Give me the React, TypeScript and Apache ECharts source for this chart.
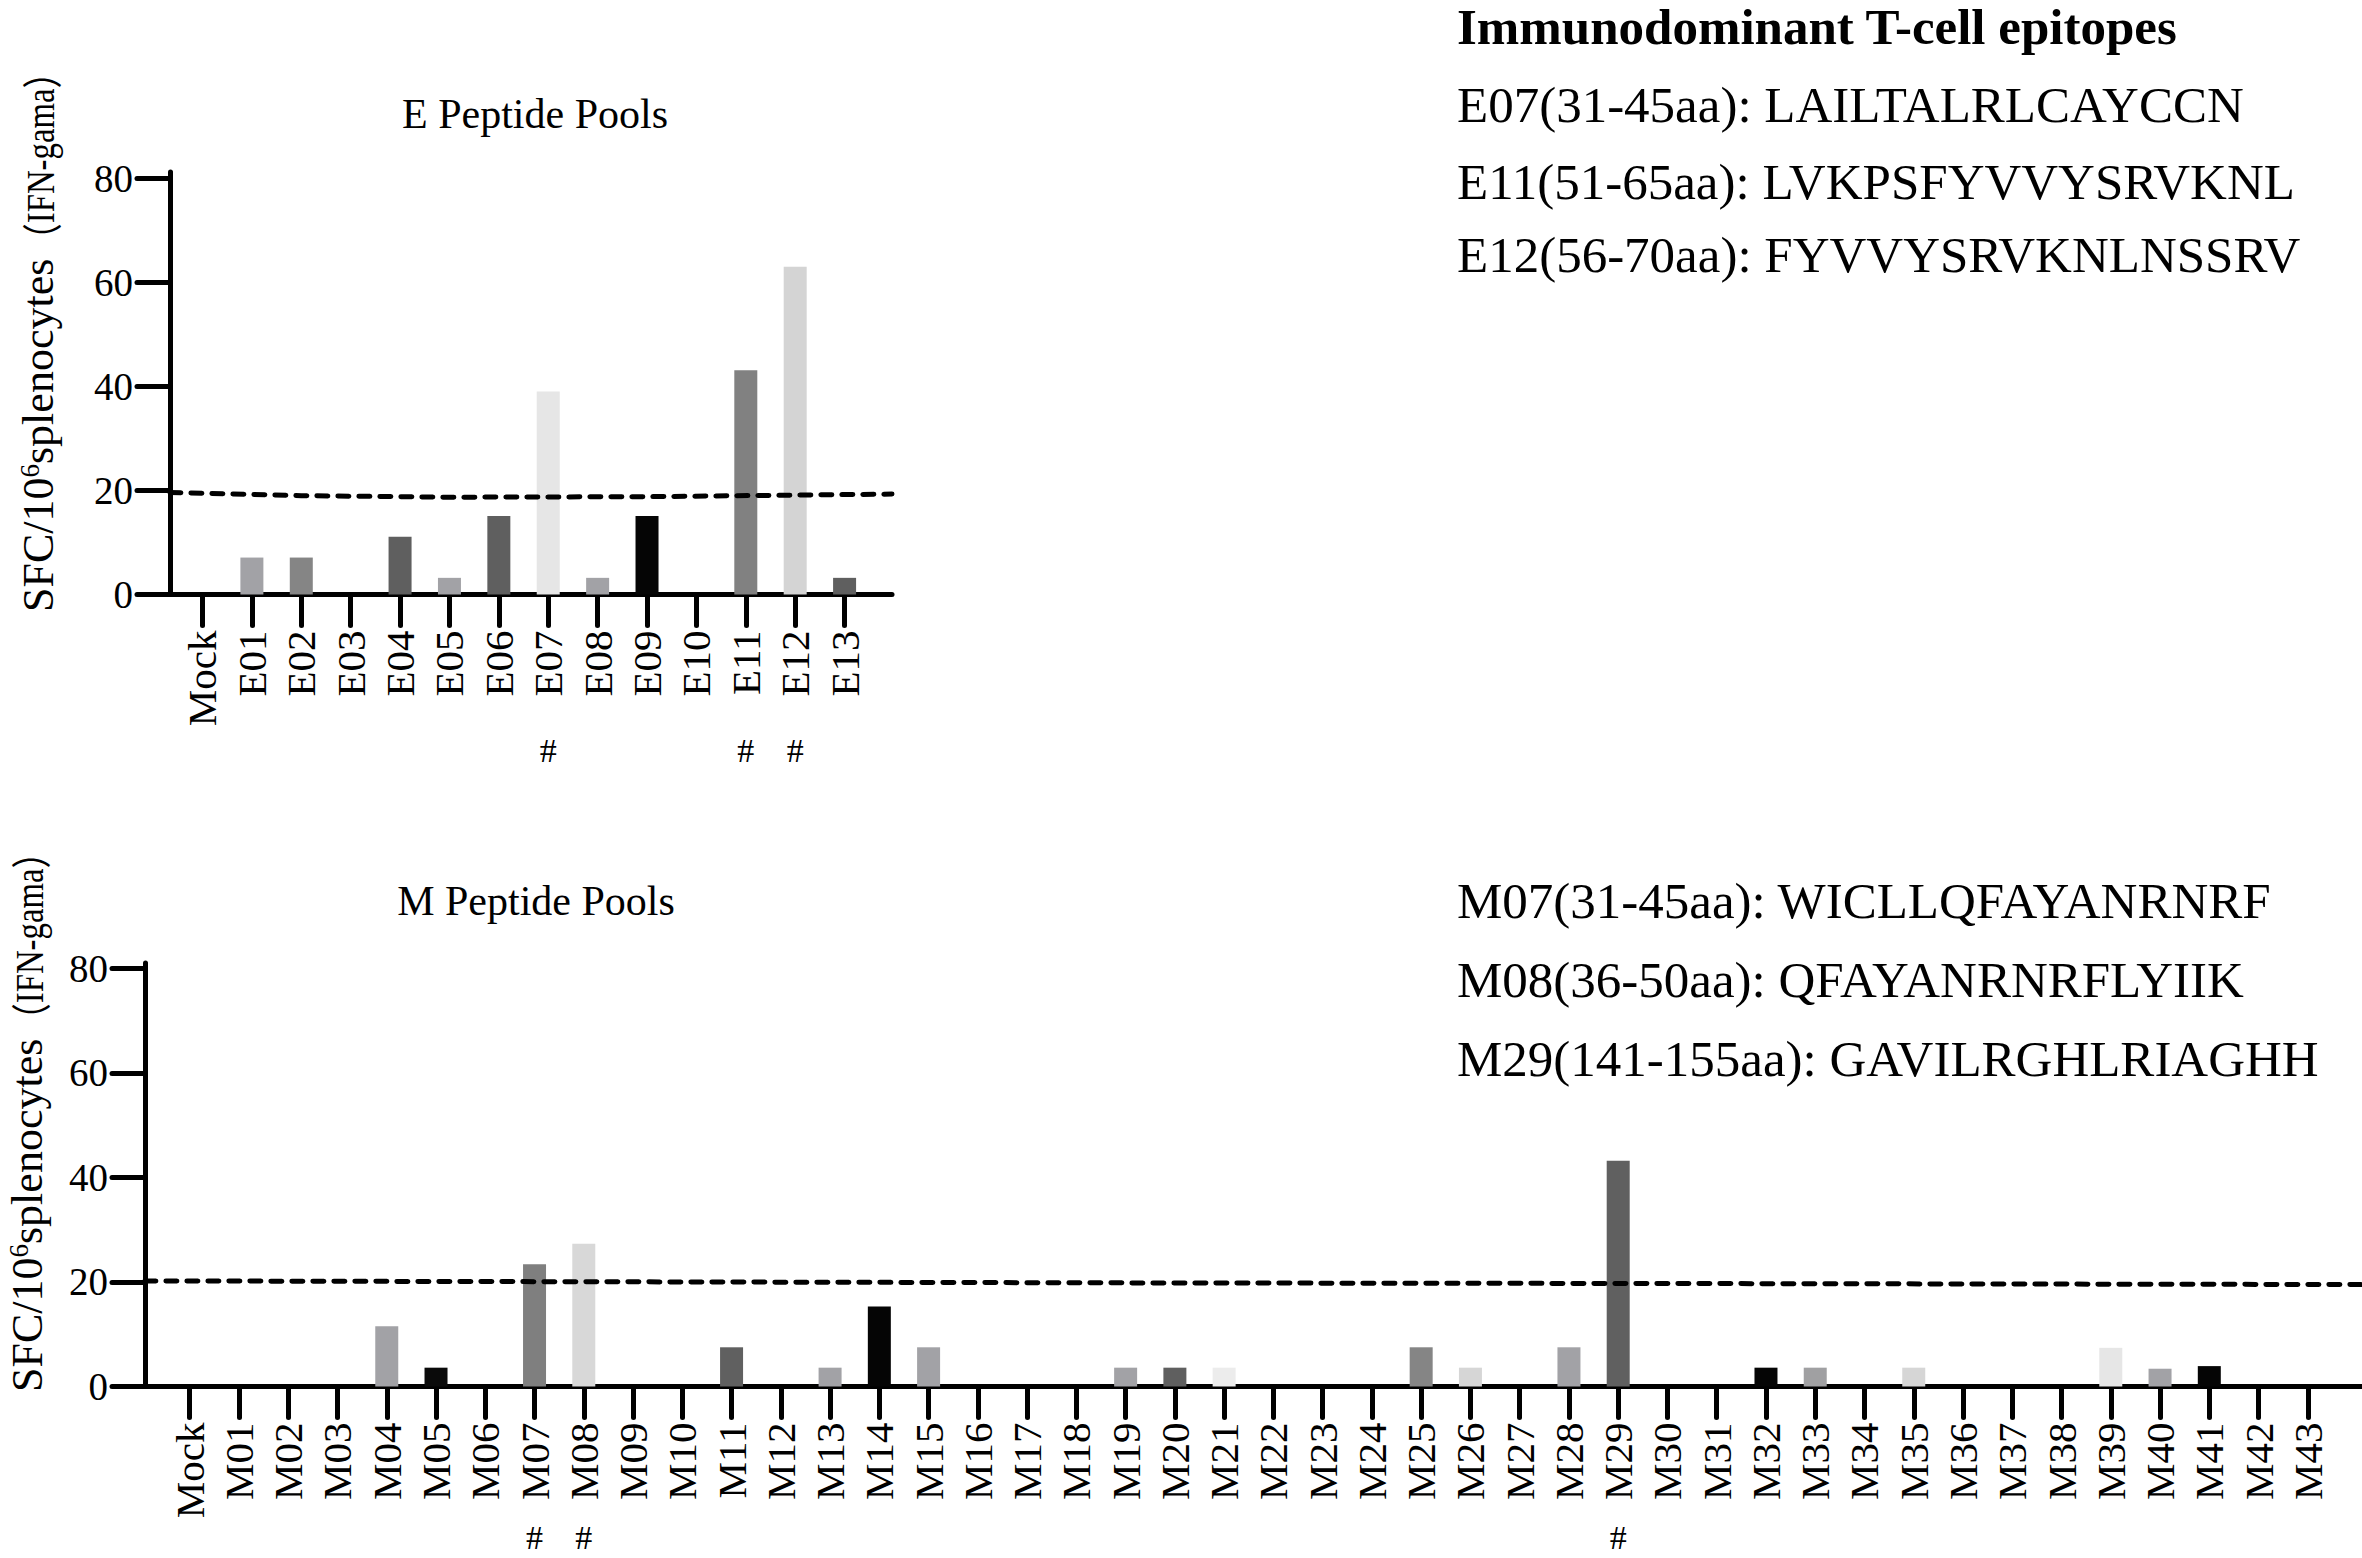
import React, { useEffect, useRef } from "react";
import * as echarts from "echarts";

// ---------- data ----------
const eCategories = ["Mock", "E01", "E02", "E03", "E04", "E05", "E06", "E07", "E08", "E09", "E10", "E11", "E12", "E13"];
const eValues = [0, 7.1, 7.1, 0, 11.1, 3.2, 15.1, 39.0, 3.2, 15.1, 0, 43.1, 63.0, 3.2];
const eMarked = ["E07", "E11", "E12"];
// threshold line: [category position, value]
const eThreshold = [[-0.66, 19.6], [2, 19.0], [5, 18.7], [9, 18.8], [12, 19.1], [13.96, 19.3]];

const mCategories = [
  "Mock", "M01", "M02", "M03", "M04", "M05", "M06", "M07", "M08", "M09", "M10",
  "M11", "M12", "M13", "M14", "M15", "M16", "M17", "M18", "M19", "M20",
  "M21", "M22", "M23", "M24", "M25", "M26", "M27", "M28", "M29", "M30",
  "M31", "M32", "M33", "M34", "M35", "M36", "M37", "M38", "M39", "M40",
  "M41", "M42", "M43",
];
const mValues = [
  0, 0, 0, 0, 11.5, 3.6, 0, 23.4, 27.3, 0, 0,
  7.5, 0, 3.6, 15.3, 7.5, 0, 0, 0, 3.6, 3.6,
  3.6, 0, 0, 0, 7.5, 3.6, 0, 7.5, 43.2, 0,
  0, 3.6, 3.6, 0, 3.6, 0, 0, 0, 7.4, 3.4,
  3.9, 0, 0,
];
const mMarked = ["M07", "M08", "M29"];
const mThreshold = [[-0.91, 20.2], [10, 20.0], [20, 19.8], [30, 19.7], [44.1, 19.5]];

const yTicks = [0, 20, 40, 60, 80];

const eEpitopes = [
  "E07(31-45aa): LAILTALRLCAYCCN",
  "E11(51-65aa): LVKPSFYVVYSRVKNL",
  "E12(56-70aa): FYVVYSRVKNLNSSRV",
];
const mEpitopes = [
  "M07(31-45aa): WICLLQFAYANRNRF",
  "M08(36-50aa): QFAYANRNRFLYIIK",
  "M29(141-155aa): GAVILRGHLRIAGHH",
];

// ---------- styles ----------
const eColors = ["#000000", "#a2a2a6", "#858585", "#a2a2a6", "#5f5f5f", "#a2a2a6", "#5f5f5f", "#e6e6e6", "#a2a2a6", "#050505", "#858585", "#818181", "#d4d4d4", "#5f5f5f"];
const mColors = [
  "#000000", "#a2a2a6", "#858585", "#a2a2a6", "#a2a2a6", "#0a0a0a", "#5f5f5f", "#7f7f7f", "#d8d8d8", "#a2a2a6", "#858585",
  "#606060", "#a2a2a6", "#a2a2a6", "#050505", "#a2a2a6", "#a2a2a6", "#a2a2a6", "#a2a2a6", "#a2a2a6", "#5f5f5f",
  "#ececec", "#a2a2a6", "#a2a2a6", "#a2a2a6", "#858585", "#d6d6d6", "#a2a2a6", "#a2a2a6", "#606060", "#a2a2a6",
  "#a2a2a6", "#050505", "#a0a0a2", "#a2a2a6", "#d6d6d6", "#a2a2a6", "#a2a2a6", "#a2a2a6", "#e6e6e6", "#a2a2a6",
  "#050505", "#a2a2a6", "#a2a2a6",
];

const SERIF = "'Liberation Serif', 'Times New Roman', serif";
const CJK = "'Noto Sans CJK SC', 'Noto Sans CJK JP', sans-serif";
const W = 2362;
const H = 1558;

function mainXAxis(gridIndex: number, cats: string[], min: number, max: number) {
  const idx = cats.map((_, i) => i);
  return {
    type: "value",
    gridIndex,
    position: "bottom",
    min,
    max,
    axisLine: { show: true, onZero: false, lineStyle: { color: "#000", width: 5, cap: "round" } },
    axisTick: { show: true, customValues: idx, length: 31, lineStyle: { color: "#000", width: 5, cap: "round" } },
    axisLabel: {
      show: true,
      customValues: idx,
      rotate: 90,
      margin: 36,
      color: "#000",
      fontFamily: SERIF,
      fontSize: 41,
      formatter: (v: number) => cats[Math.round(v)] ?? "",
    },
    splitLine: { show: false },
  };
}

function markXAxis(gridIndex: number, cats: string[], marked: string[], min: number, max: number, margin: number) {
  const idx = marked.map((m) => cats.indexOf(m));
  return {
    type: "value",
    gridIndex,
    position: "bottom",
    min,
    max,
    axisLine: { show: false },
    axisTick: { show: false },
    axisLabel: {
      show: true,
      customValues: idx,
      margin,
      color: "#000",
      fontFamily: SERIF,
      fontSize: 34,
      lineHeight: 34,
      formatter: () => "#",
    },
    splitLine: { show: false },
  };
}

function yAxisDef(gridIndex: number, max: number) {
  return {
    type: "value",
    gridIndex,
    min: 0,
    max,
    axisLine: { show: true, onZero: false, lineStyle: { color: "#000", width: 5, cap: "round" } },
    axisTick: { show: true, customValues: yTicks, length: 33, lineStyle: { color: "#000", width: 5, cap: "round" } },
    axisLabel: { show: true, customValues: yTicks, margin: 37, color: "#000", fontFamily: SERIF, fontSize: 39 },
    splitLine: { show: false },
  };
}

function barSeries(xAxisIndex: number, yAxisIndex: number, values: number[], colors: string[]) {
  return {
    type: "bar",
    xAxisIndex,
    yAxisIndex,
    barWidth: 23,
    z: 2,
    data: values.map((v, i) => ({ value: [i, v], itemStyle: { color: colors[i] } })),
  };
}

function thresholdSeries(xAxisIndex: number, yAxisIndex: number, pts: number[][]) {
  return {
    type: "line",
    xAxisIndex,
    yAxisIndex,
    symbol: "none",
    z: 5,
    silent: true,
    lineStyle: { color: "#000", width: 5, type: [11, 10], cap: "round" },
    data: pts,
  };
}

// y-axis name: group rotated a quarter turn, text starts at the bottom (local x = 0)
function yName(x: number, yBottom: number) {
  return {
    type: "group",
    x,
    y: yBottom,
    rotation: Math.PI / 2,
    children: [
      {
        type: "text",
        x: 0,
        y: 0,
        style: {
          text: "{a|SFC/10}{sup|6}{a|splenocytes}",
          align: "left",
          verticalAlign: "middle",
          fill: "#000",
          rich: {
            a: { fontFamily: SERIF, fontSize: 44, fill: "#000", verticalAlign: "bottom" },
            sup: { fontFamily: SERIF, fontSize: 27, fill: "#000", verticalAlign: "top" },
          },
        },
      },
      {
        type: "text",
        x: 356,
        y: 2,
        scaleX: 0.82,
        style: {
          text: "{p|（}{b|IFN-gama}{p|）}",
          align: "left",
          verticalAlign: "middle",
          fill: "#000",
          rich: {
            p: { fontFamily: CJK, fontSize: 40, fill: "#000", verticalAlign: "middle" },
            b: { fontFamily: SERIF, fontSize: 40, fill: "#000", verticalAlign: "middle" },
          },
        },
      },
    ],
  };
}

function plainText(text: string, x: number, y: number, fontSize: number, align: string, bold = false) {
  return {
    type: "text",
    x,
    y,
    style: {
      text,
      fill: "#000",
      fontFamily: SERIF,
      fontSize,
      fontWeight: bold ? "bold" : "normal",
      align,
      verticalAlign: "middle",
    },
  };
}

export default function App() {
  const ref = useRef<HTMLDivElement>(null);

  useEffect(() => {
    document.body.style.margin = "0";
    if (!ref.current) return;
    const chart = echarts.init(ref.current, undefined, { renderer: "svg" });

    const eMin = -0.658;
    const eMax = 13.96;
    const mMin = -0.908;
    const mMax = 44.1;

    const option: any = {
      animation: false,
      backgroundColor: "#ffffff",
      grid: [
        { left: 170, top: 172, width: 722, height: 422.5, containLabel: false },
        { left: 145, top: 963, width: 2217, height: 423.5, containLabel: false },
      ],
      xAxis: [
        mainXAxis(0, eCategories, eMin, eMax),
        markXAxis(0, eCategories, eMarked, eMin, eMax, 139),
        mainXAxis(1, mCategories, mMin, mMax),
        markXAxis(1, mCategories, mMarked, mMin, mMax, 134),
      ],
      yAxis: [yAxisDef(0, 81.2), yAxisDef(1, 81.0)],
      series: [
        barSeries(0, 0, eValues, eColors),
        thresholdSeries(0, 0, eThreshold),
        barSeries(2, 1, mValues, mColors),
        thresholdSeries(2, 1, mThreshold),
      ],
      graphic: [
        yName(38, 612),
        yName(27, 1392),
        plainText("E Peptide Pools", 535, 114, 42, "center"),
        plainText("M Peptide Pools", 536, 901, 42, "center"),
        plainText("Immunodominant T-cell epitopes", 1457, 27, 51, "left", true),
        ...eEpitopes.map((t, i) => plainText(t, 1457, [105, 182, 255][i], 51, "left")),
        ...mEpitopes.map((t, i) => plainText(t, 1457, [901, 980, 1059][i], 51, "left")),
      ],
    };

    chart.setOption(option);
    return () => {
      chart.dispose();
    };
  }, []);

  return <div ref={ref} style={{ width: W, height: H, background: "#fff" }} />;
}
